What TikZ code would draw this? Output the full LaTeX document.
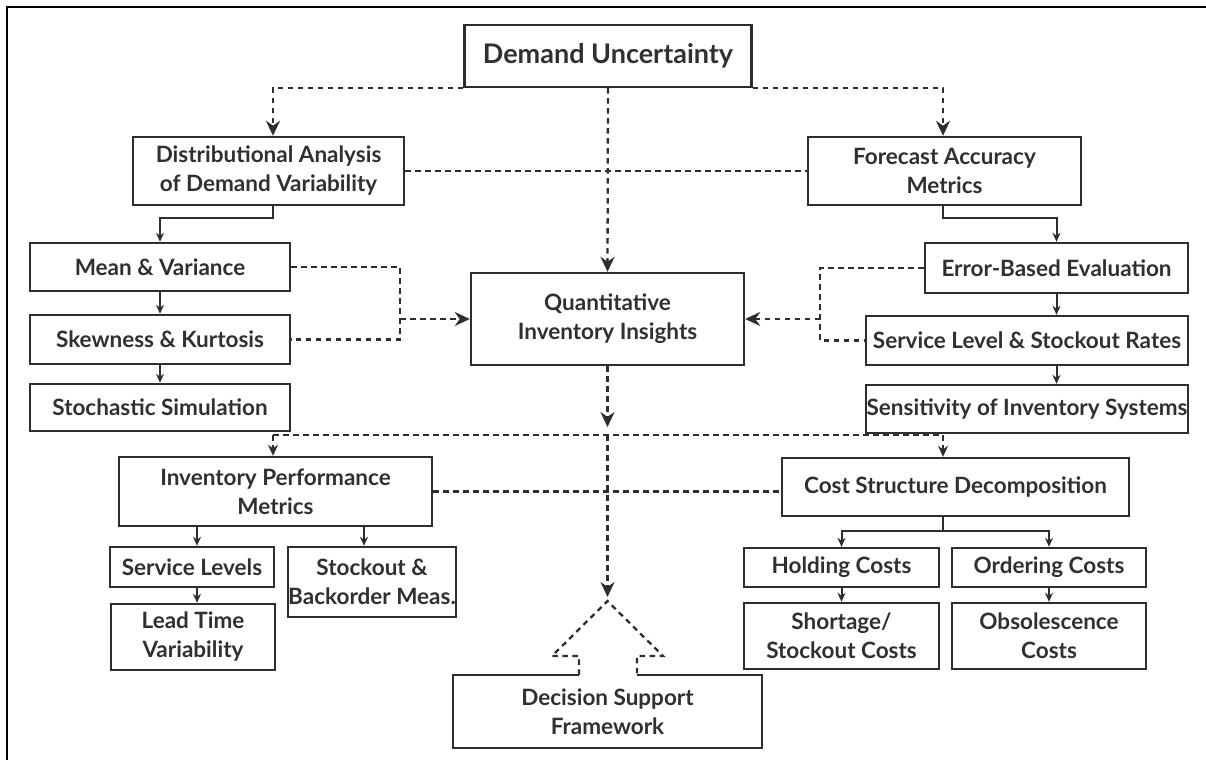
\documentclass[tikz,border=0pt]{standalone}
\usepackage{fontspec}
\setmainfont{Lato}
\usetikzlibrary{arrows.meta,calc}
\definecolor{lc}{HTML}{2E2E2E}
\definecolor{tc}{HTML}{303030}
\begin{document}
\begin{tikzpicture}[x=1pt,y=-1pt,
  bx/.style={draw=lc, line width=2.4pt, inner sep=0pt, align=center, text=tc,
    font=\bfseries\fontsize{22.5}{29}\selectfont},
  bigbx/.style={bx, font=\bfseries\fontsize{27}{32}\selectfont},
  dl/.style={draw=lc, line width=2.3pt, dash pattern=on 5.5pt off 4.5pt},
  sl/.style={draw=lc, line width=2pt},
  bigtip/.style={-{Stealth[length=15pt,width=14pt]}},
  midtip/.style={-{Stealth[length=11pt,width=10pt]}},
  smalltip/.style={-{Stealth[length=9pt,width=8pt]}},
]
\useasboundingbox (0,0) rectangle (1206,760);
% page frame (top and left edges)
\draw[black, line width=2pt] (1206,7) -- (7,7) -- (7,760);

% top level
\node[bigbx, minimum width=287pt, minimum height=62pt] (DU) at (608,56) {Demand Uncertainty};
\node[bx, minimum width=271pt, minimum height=68pt] (DA) at (268.5,171) {Distributional Analysis\\of Demand Variability};
\node[bx, minimum width=273pt, minimum height=68pt] (FA) at (944.5,171) {Forecast Accuracy\\Metrics};

% left column
\node[bx, minimum width=260pt, minimum height=48pt] (MV) at (160,267) {Mean \& Variance};
\node[bx, minimum width=260pt, minimum height=49pt] (SK) at (160,339.5) {Skewness \& Kurtosis};
\node[bx, minimum width=260pt, minimum height=47pt] (SS) at (160,407.5) {Stochastic Simulation};

% centre
\node[bx, minimum width=273pt, minimum height=92pt] (QI) at (607.5,319) {Quantitative\\Inventory Insights};

% right column
\node[bx, minimum width=263pt, minimum height=50pt] (EB) at (1056.5,268) {Error-Based Evaluation};
\node[bx, minimum width=322pt, minimum height=49pt] (SL) at (1027,340.5) {Service Level \& Stockout Rates};
\node[bx, minimum width=322pt, minimum height=48pt] (SE) at (1027,409) {Sensitivity of Inventory Systems};

% lower level
\node[bx, minimum width=313pt, minimum height=69pt] (IP) at (275.5,491.5) {Inventory Performance\\Metrics};
\node[bx, minimum width=347pt, minimum height=58pt] (CS) at (955.5,487) {Cost Structure Decomposition};
\node[bx, minimum width=164pt, minimum height=40pt] (SV) at (192,567) {Service Levels};
\node[bx, minimum width=168pt, minimum height=70pt] (SB) at (372,582) {Stockout \&\\Backorder Meas.};
\node[bx, minimum width=164pt, minimum height=66pt] (LT) at (193,637) {Lead Time\\Variability};
\node[bx, minimum width=195pt, minimum height=39pt] (HC) at (841.5,567.5) {Holding Costs};
\node[bx, minimum width=194pt, minimum height=39pt] (OC) at (1049,567.5) {Ordering Costs};
\node[bx, minimum width=195pt, minimum height=66pt] (SC) at (841.5,636) {Shortage/\\Stockout Costs};
\node[bx, minimum width=194pt, minimum height=66pt] (OB) at (1049,636) {Obsolescence\\Costs};
\node[bx, draw=none, minimum width=307pt, minimum height=71pt] (DS) at (607.5,711.5) {Decision Support\\Framework};

% helper coordinates
\coordinate (jDA) at (273,218);
\coordinate (jFA) at (943,218);
\coordinate (mL) at (400,0);
\coordinate (mR) at (820,0);
\coordinate (brA) at (607.5,427);
\coordinate (br) at (607.5,435);
\coordinate (bL) at (273,435);
\coordinate (bR) at (943,435);
\coordinate (apexTip) at (607.5,597);
\coordinate (apex) at (607.5,601);
\coordinate (tL) at (552,656);
\coordinate (tR) at (663,656);
\coordinate (gL) at (579,656);
\coordinate (gR) at (637,656);
\coordinate (ipa) at (197,0);
\coordinate (ipb) at (364,0);
\coordinate (cj) at (943,531);

% branches from the top
\draw[dl, bigtip] (DU.south west) -- (DU.south west -| jDA) -- (jDA |- DA.north);
\draw[dl, bigtip] (DU.south east) -- (DU.south east -| jFA) -- (jFA |- FA.north);
\draw[dl, bigtip] (DU.south) -- (QI.north);
\draw[dl] (DA.east) -- (FA.west);

% left analysis chain
\draw[sl, smalltip] (DA.south -| jDA) -- (jDA) -| (MV.north);
\draw[sl, smalltip] (MV.south) -- (SK.north);
\draw[sl, smalltip] (SK.south) -- (SS.north);
\draw[dl] (MV.east) -- (MV.east -| mL) -- (SK.east -| mL) -- (SK.east);
\draw[dl, bigtip] (QI.west -| mL) -- (QI.west);

% right analysis chain
\draw[sl, smalltip] (FA.south -| jFA) -- (jFA) -| (EB.north);
\draw[sl, smalltip] (EB.south) -- (EB.south |- SL.north);
\draw[sl, smalltip] (EB.south |- SL.south) -- (EB.south |- SE.north);
\draw[dl] (EB.west) -- (EB.west -| mR) -- (SL.west -| mR) -- (SL.west);
\draw[dl, bigtip] (QI.east -| mR) -- (QI.east);

% from insights down to the lower level
\draw[dl, bigtip] (QI.south) -- (brA);
\draw[dl] (bL) -- (bR);
\draw[dl, midtip] (bL) -- (bL |- IP.north);
\draw[dl, midtip] (bR) -- (bR |- CS.north);
\draw[dl, bigtip] (br) -- (apexTip);
\draw[dl] (IP.east) -- (IP.east -| CS.west);

% performance metrics
\draw[sl, smalltip] (IP.south -| ipa) -- (SV.north -| ipa);
\draw[sl, smalltip] (IP.south -| ipb) -- (SB.north -| ipb);
\draw[sl, smalltip] (SV.south -| ipa) -- (LT.north -| ipa);

% cost structure
\draw[sl] (CS.south -| cj) -- (cj);
\draw[sl, smalltip] (cj) -| (HC.north);
\draw[sl, smalltip] (cj) -| (OC.north);
\draw[sl, smalltip] (HC.south) -- (SC.north);
\draw[sl, smalltip] (OC.south) -- (OB.north);

% decision support with its open roof
\draw[dl] (gL |- DS.north) -- (gL) -- (tL) -- (apex) -- (tR) -- (gR) -- (gR |- DS.north);
\draw[draw=lc, line width=2.4pt] (gL |- DS.north) -- (DS.north west) -- (DS.south west)
  -- (DS.south east) -- (DS.north east) -- (gR |- DS.north);
\end{tikzpicture}
\end{document}
